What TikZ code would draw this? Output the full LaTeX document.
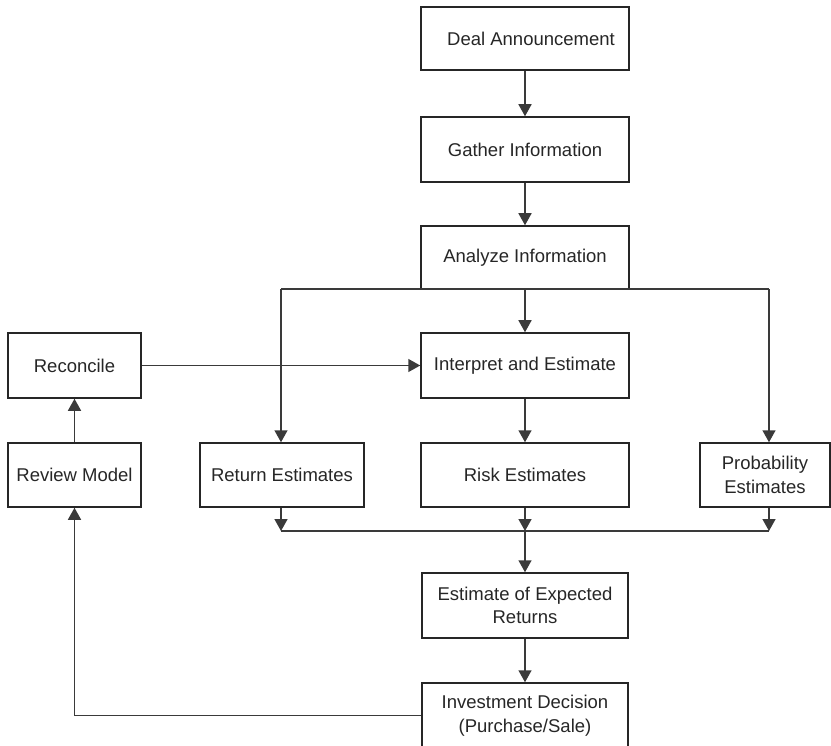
\documentclass[tikz,border=0pt]{standalone}
\usepackage{fontspec}
\setmainfont{Liberation Sans}
\usetikzlibrary{arrows.meta}
\definecolor{ink}{HTML}{262626}
\definecolor{wirecol}{HTML}{3A3A3A}
\begin{document}
\begin{tikzpicture}[x=1pt,y=-1pt,
  box/.style={draw=ink, line width=1.5pt, rectangle, inner sep=0pt, align=center,
    text=ink, font=\fontsize{18.5}{23.5}\selectfont},
  flow/.style={-{Triangle[width=13pt,length=12pt]}, draw=wirecol, line width=1.5pt},
  wire/.style={draw=wirecol, line width=1.5pt}]
\useasboundingbox (0,0) rectangle (831,746);

% main column
\node[box, minimum width=208pt, minimum height=63pt] (deal) at (525,38.5) {\hspace*{12pt}Deal Announcement};
\node[box, minimum width=208pt, minimum height=65pt] (gather) at (525,149.5) {Gather Information};
\node[box, minimum width=208pt, minimum height=63pt] (analyze) at (525,257.5) {Analyze Information};
\node[box, minimum width=208pt, minimum height=65pt] (interp) at (525,365.5) {Interpret and Estimate};
\node[box, minimum width=208pt, minimum height=64pt] (risk) at (525,475) {Risk Estimates};
\node[box, minimum width=206pt, minimum height=65pt] (expret) at (525,605.5) {Estimate of Expected\\Returns};
\node[box, minimum width=206pt, minimum height=65pt] (decide) at (525,715.5) {Investment Decision\\(Purchase/Sale)};

% side boxes
\node[box, minimum width=164pt, minimum height=64pt] (ret) at (282,475) {Return Estimates};
\node[box, minimum width=130pt, minimum height=64pt] (prob) at (765,475) {Probability\\Estimates};
\node[box, minimum width=133pt, minimum height=65pt] (recon) at (74.5,365.5) {Reconcile};
\node[box, minimum width=133pt, minimum height=64pt] (review) at (74.5,475) {Review Model};

% junction points
\coordinate (jr) at (281,289);
\coordinate (jp) at (769,289);
\coordinate (mr) at (281,531);
\coordinate (mm) at (525,531);
\coordinate (mp) at (769,531);

% top chain
\draw[flow] (deal) -- (gather);
\draw[flow] (gather) -- (analyze);
\draw[flow] (analyze) -- (interp);
\draw[flow] (interp) -- (risk);

% branches from the analysis step
\draw[wire] (jr) -- (jp);
\draw[flow] (jr) -- (jr |- ret.north);
\draw[flow] (jp) -- (jp |- prob.north);

% feedback path
\draw[flow] (recon.east) -- (interp.west);
\draw[flow] (review) -- (recon);
\draw[flow] (decide.west) -| (review.south);

% merge of the three estimates
\draw[flow] (mr |- ret.south) -- (mr);
\draw[flow] (risk.south) -- (mm);
\draw[flow] (mp |- prob.south) -- (mp);
\draw[wire] (mr) -- (mp);
\draw[flow] (mm) -- (expret);
\draw[flow] (expret) -- (decide);
\end{tikzpicture}
\end{document}
